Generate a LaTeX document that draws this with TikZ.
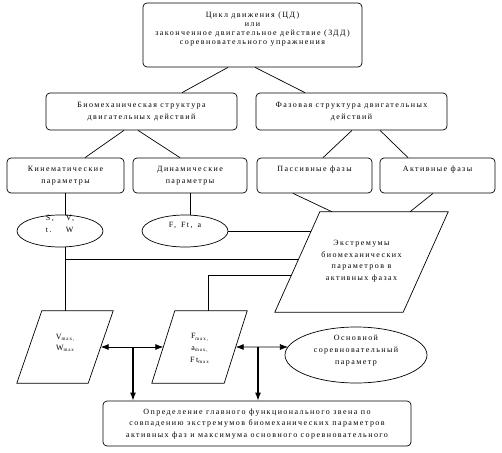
\documentclass[tikz,border=0pt]{standalone}
\usepackage{fontspec}
\setmainfont{Liberation Serif}[LetterSpace=18]
\usetikzlibrary{shapes.geometric,arrows.meta,calc,intersections}
\newcommand{\txt}[3]{\raisebox{\dimexpr#1-2pt\relax}[0pt][0pt]{\renewcommand{\arraystretch}{#2}\begin{tabular}{@{}c@{}}#3\end{tabular}}}
\newcommand{\mx}[1]{\raisebox{-1.5pt}{\fontsize{5}{6}\selectfont #1}}
\begin{document}
\begin{tikzpicture}[x=1pt,y=-1pt,
  every node/.style={font=\fontsize{8}{12}\selectfont},
  box/.style={draw, rounded corners=4pt, line width=0.7pt, inner sep=0pt},
  ell/.style={draw, ellipse, line width=0.7pt, inner sep=0pt},
  parabox/.style={rectangle, inner sep=0pt},
  ln/.style={line width=0.7pt},
  arr/.style={line width=0.7pt, {Latex[length=8pt,width=6pt]}-{Latex[length=8pt,width=6pt]}},
  down/.style={line width=1.3pt, -{Latex[length=8pt,width=6pt]}}]
\useasboundingbox (0,0) rectangle (502,452);

\node[box, minimum width=219pt, minimum height=64pt] (top) at (252.5,35)
  {\txt{6pt}{0.75}{Цикл движения (ЦД)\\или\\законченное двигательное действие (ЗДД)\\соревновательного упражнения}};
\node[box, minimum width=191pt, minimum height=37pt] (bio) at (141.5,111.5)
  {\txt{0.5pt}{1}{Биомеханическая структура\\двигательных действий}};
\node[box, minimum width=191pt, minimum height=37pt] (phase) at (351.5,111.5)
  {\txt{0.5pt}{1}{Фазовая структура двигательных\\действий}};
\node[box, minimum width=117pt, minimum height=35pt] (kin) at (65.5,175.5)
  {\txt{0pt}{1}{Кинематические\\параметры}};
\node[box, minimum width=114pt, minimum height=35pt] (dyn) at (190,175.5)
  {\txt{0pt}{1}{Динамические\\параметры}};
\node[box, minimum width=115pt, minimum height=35pt] (pass) at (314.5,175.5)
  {\txt{6pt}{1}{Пассивные фазы}};
\node[box, minimum width=115pt, minimum height=35pt] (act) at (437.5,175.5)
  {\txt{6pt}{1}{Активные фазы}};

\node[ell, minimum width=86pt, minimum height=32pt] (kinell) at (60,231)
  {\raisebox{4.5pt}[0pt][0pt]{\begin{tabular}{@{}l@{\hspace{12pt}}l@{}}S,&V,\\t.&W\end{tabular}}};
\node[ell, minimum width=86pt, minimum height=32pt] (dynell) at (185,231)
  {\txt{6pt}{1}{F,\hspace{5pt}Ft,\hspace{5pt}a}};

% extremum parallelogram
\node[parabox, minimum width=173pt, minimum height=100pt] (ext) at (361.5,262)
  {\txt{1.5pt}{0.96}{Экстремумы\\биомеханических\\параметров в\\активных фазах}};
\draw[ln, name path=extp] ($(ext.north west)+(45,0)$) -- (ext.north east)
  -- ($(ext.south east)+(-45,0)$) -- (ext.south west) -- cycle;

\node[parabox, minimum width=96pt, minimum height=72pt] (vpara) at (65,347)
  {\txt{4.5pt}{0.92}{V\mx{max,}\\W\mx{max}}};
\draw[ln] ($(vpara.north west)+(25,0)$) -- (vpara.north east)
  -- ($(vpara.south east)+(-25,0)$) -- (vpara.south west) -- cycle;
\node[parabox, minimum width=95pt, minimum height=72pt] (fpara) at (199.5,347)
  {\txt{-1pt}{0.98}{F\mx{max,}\\a\mx{max,}\\Ft\mx{max}}};
\draw[ln] ($(fpara.north west)+(23,0)$) -- (fpara.north east)
  -- ($(fpara.south east)+(-23,0)$) -- (fpara.south west) -- cycle;

\node[ell, name path=oellp, minimum width=142pt, minimum height=56pt] (oell) at (356,355)
  {\txt{5pt}{1}{Основной\\соревновательный\\параметр}};

\node[box, minimum width=308pt, minimum height=45pt] (bottom) at (257,423.5)
  {\txt{0pt}{0.97}{Определение главного функционального звена по\\совпадению экстремумов биомеханических параметров\\активных фаз и максимума основного соревновательного}};

% tree connectors
\draw[ln] ($(top.south)+(-24.5,0)$) -- ($(bio.north)+(40.5,0)$);
\draw[ln] ($(top.south)+(2.5,0)$) -- ($(phase.north)+(-46.5,0)$);
\draw[ln] ($(bio.south)+(-17.5,0)$) -- ($(kin.north)+(19.5,0)$);
\draw[ln] ($(bio.south)+(-3.5,0)$) -- ($(dyn.north)+(-10,0)$);
\draw[ln] ($(phase.south)+(0.5,0)$) -- ($(pass.north)+(8.5,0)$);
\draw[ln] ($(phase.south)+(28.5,0)$) -- ($(act.north)+(-29.5,0)$);
\draw[ln] ($(pass.south)+(-21.5,0)$) -- ($(ext.north)+(-29.5,0)$);
\draw[ln] ($(act.south)+(-4.5,0)$) -- ($(ext.north)+(48.5,0)$);

\draw[ln] (kin.south) -- (kin.south |- kinell.north);
\draw[ln] (dyn.south) -- (dyn.south |- dynell.north);
\draw[ln] (kinell.south -| kin.south) -- (vpara.north -| kin.south);

% lines into the extremum parallelogram
\path[name path=h0] (dynell.east) -- ++(150,0);
\draw[ln, name intersections={of=h0 and extp, sort by=h0}] (dynell.east) -- (intersection-1);
\coordinate (j1) at (65.5,259);
\path[name path=h1] (j1) -- ++(300,0);
\draw[ln, name intersections={of=h1 and extp, sort by=h1}] (j1) -- (intersection-1);
\coordinate (j4) at ($(fpara.north)+(9,0)$);
\path[name path=h2] (j4 |- 0,275) -- ++(150,0);
\draw[ln, name intersections={of=h2 and extp, sort by=h2}] (j4) -- (j4 |- 0,275) -- (intersection-1);

\draw[ln] ($(ext.south)+(-9.5,0)$) -- ($(ext.south)+(-9.5,0)$ |- oell.north);

% arrows
\draw[arr] ($(vpara.east)+(-12.5,0)$) -- ($(fpara.west)+(11.5,0)$);
\path[name path=h3] ($(fpara.east)+(-11.5,0)$) -- ++(100,0);
\draw[arr, name intersections={of=h3 and oellp, sort by=h3}] ($(fpara.east)+(-11.5,0)$) -- (intersection-1);
\coordinate (j2) at (133,347);
\coordinate (j3) at (258,347);
\draw[down] (j2) -- (j2 |- bottom.north);
\draw[down] (j3) -- (j3 |- bottom.north);
\end{tikzpicture}
\end{document}
